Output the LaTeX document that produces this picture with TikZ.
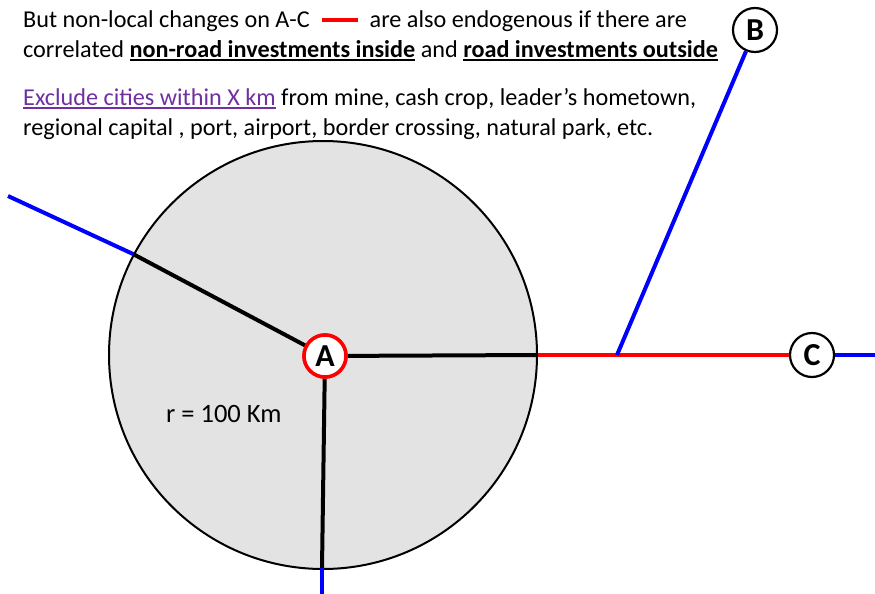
\documentclass[tikz,border=0pt]{standalone}
\usepackage{fontspec}
\setmainfont{Carlito}
\definecolor{zonefill}{RGB}{227,227,227}
\definecolor{linkpurple}{RGB}{112,48,160}
\newcommand\myul[1]{\setbox0\hbox{#1}\rlap{\rule[-4pt]{\wd0}{2pt}}\box0\relax}
\tikzset{
  txt/.style={anchor=base west, inner sep=0pt, font=\fontsize{24.2}{28}\selectfont},
  city/.style={circle, draw=black, line width=2.2pt, fill=white, minimum size=44pt, inner sep=0pt, font=\fontsize{32}{36}\selectfont\bfseries},
  road/.style={line width=4pt},
}
\begin{document}
\begin{tikzpicture}[x=1pt,y=-1pt]
\fill[white] (0,0) rectangle (875,594);
\useasboundingbox (0,0) rectangle (875,594);
% zone circle
\node[circle, draw=black, line width=2pt, fill=zonefill, minimum size=428pt, inner sep=0pt] (zone) at (323,355) {};
\node[txt, font=\fontsize{26.5}{30}\selectfont] (rlab) at (166,422) {r = 100 Km};
% coordinates
\coordinate (leftend) at (8,196);
\coordinate (botend) at (322,594);
\coordinate (rightend) at (875,355);
\coordinate (junction) at (617,355);
\coordinate (botedge) at (322,568);
% cities
\node[city, draw=red, line width=3.5pt, minimum size=42pt] (A) at (325,356) {A};
\node[city] (B) at (755,30) {B};
\node[city] (C) at (812,355) {C};
% black roads inside
\draw[road, black] (A) -- (zone.152.5);
\draw[road, black] (A) -- (zone.east);
\draw[road, black] (A) -- (botedge);
% outside
\draw[road, blue] (zone.152.5) -- (leftend);
\draw[road, blue] (botedge) -- (botend);
\draw[road, red] (zone.east) -- (C);
\draw[road, blue] (C) -- (rightend);
\draw[road, blue] (B) -- (junction);
\node[city, draw=red, line width=3.5pt, minimum size=42pt] at (A) {A};
% text
\node[txt] (t1) at (23,28) {But non-local changes on A-C\hspace{12pt}{\color{red}\rule[6pt]{36pt}{4pt}}\hspace{12pt}are also endogenous if there are};
\node[txt] (t2) at (23,57) {correlated \myul{\textbf{non-road investments inside}} and \myul{\textbf{road investments outside}}};
\node[txt] (t3) at (23,105) {{\color{linkpurple}\myul{Exclude cities within X km}} from mine, cash crop, leader’s hometown,};
\node[txt] (t4) at (23,135) {regional capital , port, airport, border crossing, natural park, etc.};
\end{tikzpicture}
\end{document}
